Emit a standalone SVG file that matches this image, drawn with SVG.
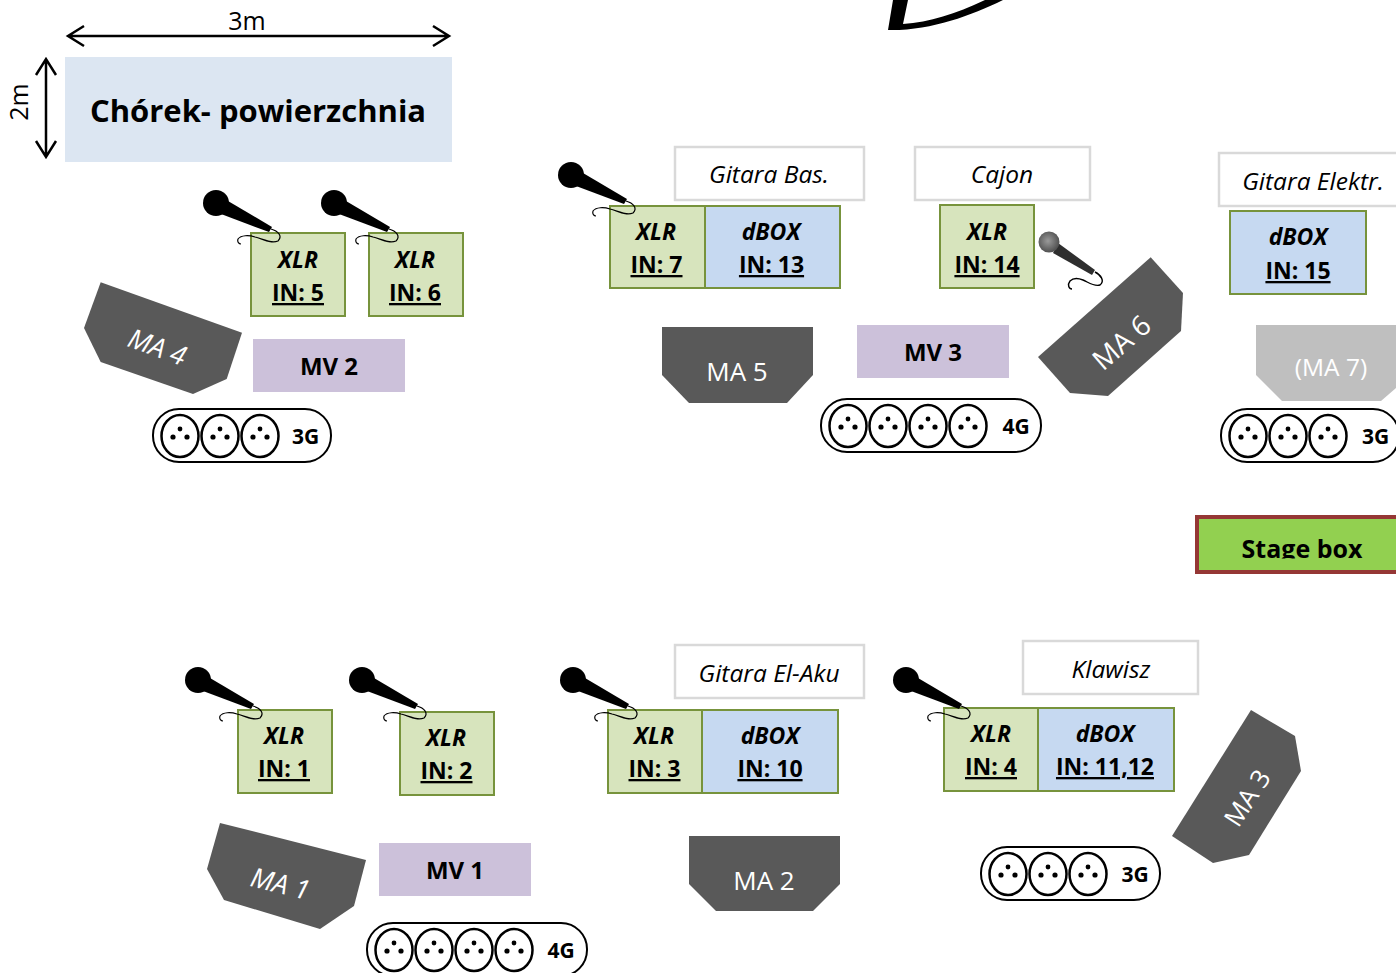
<svg xmlns="http://www.w3.org/2000/svg" width="1396" height="973" viewBox="0 0 1396 973">
<style>
text{font-family:"Open Sans","Noto Sans","Liberation Sans",sans-serif;text-anchor:middle;fill:#000}
.g{fill:#d7e4bd;stroke:#77933c;stroke-width:2}
.b{fill:#c6d9f1;stroke:#77933c;stroke-width:2}
.l{fill:#fff;stroke:#d9d9d9;stroke-width:2.5}
.p{fill:#ccc1da}
.m{fill:#595959}
.mt{fill:#fff;font-size:26px}
.it{font-style:italic;font-size:27px}
.x{font-size:23px;font-weight:700;font-style:italic}
.i{font-size:23px;font-weight:700;text-decoration:underline}
.t{font-size:24.5px;font-style:italic}
.v{font-size:24px;font-weight:700}
.o{fill:#fff;stroke:#000;stroke-width:2}
.n{font-size:21px;font-weight:700}
.a{fill:none;stroke:#000;stroke-width:2.5}
</style>
<defs>
<radialGradient id="mg" cx=".45" cy=".45" r=".6"><stop offset="0" stop-color="#9a9a9a"/><stop offset="1" stop-color="#4a4a4a"/></radialGradient>
<clipPath id="sc"><rect x="1190" y="510" width="206" height="48.5"/></clipPath>
<g id="mic"><circle r="13"/><path d="M12-2 56 24 53 29 5 11Z"/><path d="M55 26C62 28 67 33 62 38 55 41 47 36 39 34 33 32 25 32 22 36 21 39 23 41 25 41" fill="none" stroke="#000" stroke-width="1.2"/></g>
<g id="s"><ellipse rx="18.5" ry="21" fill="#fff" stroke="#000" stroke-width="2.5"/><circle cy="-7" r="2.4"/><circle cx="-7" cy="1" r="2.6"/><circle cx="7" cy="1" r="2.6"/></g>
</defs>
<g id="connectors">
<path class="a" d="M68 36H449M84 26 68 36 84 46M433 26 449 36 433 46"/>
<path class="a" d="M46 59V157M36 75 46 59 56 75M36 141 46 157 56 141"/>
</g>
<g id="top-fragment"><path d="M893 0 888 30C930 31 970 16 1003 0H985C955 14 930 22 903 24L908 0Z"/></g>
<text x="247" y="30" font-size="25">3m</text>
<text transform="translate(28 102) rotate(-90)" font-size="25">2m</text>
<g id="chorek"><rect x="65" y="57" width="387" height="105" fill="#dce6f2"/><text x="258" y="121.5" font-size="31" font-weight="700">Chórek- powierzchnia</text></g>
<g id="in5"><rect class="g" x="251" y="233" width="94" height="83"/><text class="x" x="298" y="268">XLR</text><text class="i" x="298" y="301">IN: 5</text></g>
<g id="in6"><rect class="g" x="369" y="233" width="94" height="83"/><text class="x" x="415" y="268">XLR</text><text class="i" x="415" y="301">IN: 6</text></g>
<use href="#mic" x="216" y="203"/><use href="#mic" x="334" y="203"/>
<g id="ma4"><path class="m" d="M100.7 282.3 242 332.7 226.7 379 193 394 100.7 362 84 328Z"/><text class="mt it" transform="translate(154 356) rotate(20)">MA 4</text></g>
<g id="mv2"><rect class="p" x="253" y="339" width="152" height="53"/><text class="v" x="329" y="375">MV 2</text></g>
<g id="o3a"><rect class="o" x="153" y="409" width="178" height="53" rx="26"/><use href="#s" x="180" y="436"/><use href="#s" x="220" y="436"/><use href="#s" x="260" y="436"/><text class="n" x="305.500" y="444">3G</text></g>
<g id="gbas"><rect class="l" x="675" y="147" width="189" height="53"/><text class="t" x="769" y="183">Gitara Bas.</text></g>
<g id="cajon"><rect class="l" x="915" y="147" width="175" height="53"/><text class="t" x="1002" y="183">Cajon</text></g>
<g id="gel"><rect class="l" x="1219" y="153" width="190" height="53"/><text class="t" x="1313" y="190">Gitara Elektr.</text></g>
<g id="in7"><rect class="g" x="610" y="206" width="95" height="82"/><text class="x" x="656" y="240">XLR</text><text class="i" x="656.500" y="273">IN: 7</text></g>
<g id="in13"><rect class="b" x="705" y="206" width="135" height="82"/><text class="x" x="771" y="240">dBOX</text><text class="i" x="771.500" y="273">IN: 13</text></g>
<use href="#mic" x="571" y="175"/>
<g id="in14"><rect class="g" x="940" y="205" width="94" height="83"/><text class="x" x="987" y="240">XLR</text><text class="i" x="987" y="273">IN: 14</text></g>
<g id="mic14"><path d="M1058 243 1095 270 1092 275 1053 253Z" fill="#2e2e2e"/><circle cx="1049" cy="242" r="10.500" fill="url(#mg)"/><path d="M1095 272C1101 275 1105 281 1100 285 1094 287 1088 282 1083 280 1078 278 1073 278 1070 281 1067 285 1069 289 1072 289" fill="none" stroke="#000" stroke-width="1.400"/></g>
<g id="in15"><rect class="b" x="1230" y="211" width="136" height="83"/><text class="x" x="1298" y="245">dBOX</text><text class="i" x="1298" y="279">IN: 15</text></g>
<g id="ma5"><path class="m" d="M662 327H813V375L787 403H689L662 375Z"/><text class="mt" x="737" y="381">MA 5</text></g>
<g id="mv3"><rect class="p" x="857" y="325" width="152" height="53"/><text class="v" x="933" y="361">MV 3</text></g>
<g id="ma6"><path class="m" d="M1150.700 257.300 1183 293 1181 331 1108 396 1070 393 1038 357Z"/><text class="mt" transform="translate(1128 350) rotate(-41)" style="font-size:28px">MA 6</text></g>
<g id="ma7"><path fill="#bfbfbf" d="M1256 325H1396V388L1381 401H1282L1256 375Z"/><text class="mt" x="1331" y="376" style="font-size:24.500px">(MA 7)</text></g>
<g id="o4a"><rect class="o" x="821" y="399" width="220" height="53" rx="26"/><use href="#s" x="848" y="426"/><use href="#s" x="888" y="426"/><use href="#s" x="928" y="426"/><use href="#s" x="968" y="426"/><text class="n" x="1016" y="434">4G</text></g>
<g id="o3b"><rect class="o" x="1221" y="409" width="178" height="53" rx="26"/><use href="#s" x="1248" y="436"/><use href="#s" x="1288" y="436"/><use href="#s" x="1328" y="436"/><text class="n" x="1375.500" y="444">3G</text></g>
<g id="stagebox"><rect x="1197" y="517" width="210" height="55" fill="#92d050" stroke="#953735" stroke-width="4"/><text x="1302" y="558" font-size="25" font-weight="700" clip-path="url(#sc)">Stage box</text></g>
<g id="gaku"><rect class="l" x="675" y="645" width="189" height="53"/><text class="t" x="769" y="682">Gitara El-Aku</text></g>
<g id="klawisz"><rect class="l" x="1023" y="641" width="175" height="53"/><text class="t" x="1111" y="678">Klawisz</text></g>
<g id="in1"><rect class="g" x="238" y="710" width="94" height="83"/><text class="x" x="284" y="744">XLR</text><text class="i" x="284" y="777">IN: 1</text></g>
<g id="in2"><rect class="g" x="400" y="712" width="94" height="83"/><text class="x" x="446" y="746">XLR</text><text class="i" x="446.500" y="779">IN: 2</text></g>
<g id="in3"><rect class="g" x="608" y="710" width="94" height="83"/><text class="x" x="654" y="744">XLR</text><text class="i" x="654.500" y="777">IN: 3</text></g>
<g id="in10"><rect class="b" x="702" y="710" width="136" height="83"/><text class="x" x="770" y="744">dBOX</text><text class="i" x="770" y="777">IN: 10</text></g>
<g id="in4"><rect class="g" x="944" y="708" width="94" height="83"/><text class="x" x="991" y="742">XLR</text><text class="i" x="991" y="775">IN: 4</text></g>
<g id="in11"><rect class="b" x="1038" y="708" width="136" height="83"/><text class="x" x="1105" y="742">dBOX</text><text class="i" x="1105" y="775">IN: 11,12</text></g>
<use href="#mic" x="198" y="680"/><use href="#mic" x="362" y="680"/><use href="#mic" x="573" y="680"/><use href="#mic" x="906" y="680"/>
<g id="ma1"><path class="m" d="M220 823 366 860 354 906 320 929 224 900 207 869Z"/><text class="mt it" transform="translate(278 893) rotate(14)">MA 1</text></g>
<g id="mv1"><rect class="p" x="379" y="843" width="152" height="53"/><text class="v" x="455" y="879">MV 1</text></g>
<g id="ma2"><path class="m" d="M689 836H840V884L813 911H716L689 884Z"/><text class="mt" x="764" y="890">MA 2</text></g>
<g id="ma3"><path class="m" d="M1251 710 1295 736 1301 771 1249 855 1213 863 1172 836Z"/><text class="mt" transform="translate(1255 803) rotate(-57)">MA 3</text></g>
<g id="o3c"><rect class="o" x="981" y="847" width="179" height="53" rx="26"/><use href="#s" x="1008" y="874"/><use href="#s" x="1048" y="874"/><use href="#s" x="1088" y="874"/><text class="n" x="1135" y="882">3G</text></g>
<g id="o4b"><rect class="o" x="367" y="923" width="220" height="53" rx="26"/><use href="#s" x="394" y="950"/><use href="#s" x="434" y="950"/><use href="#s" x="474" y="950"/><use href="#s" x="514" y="950"/><text class="n" x="561" y="958">4G</text></g>
</svg>
